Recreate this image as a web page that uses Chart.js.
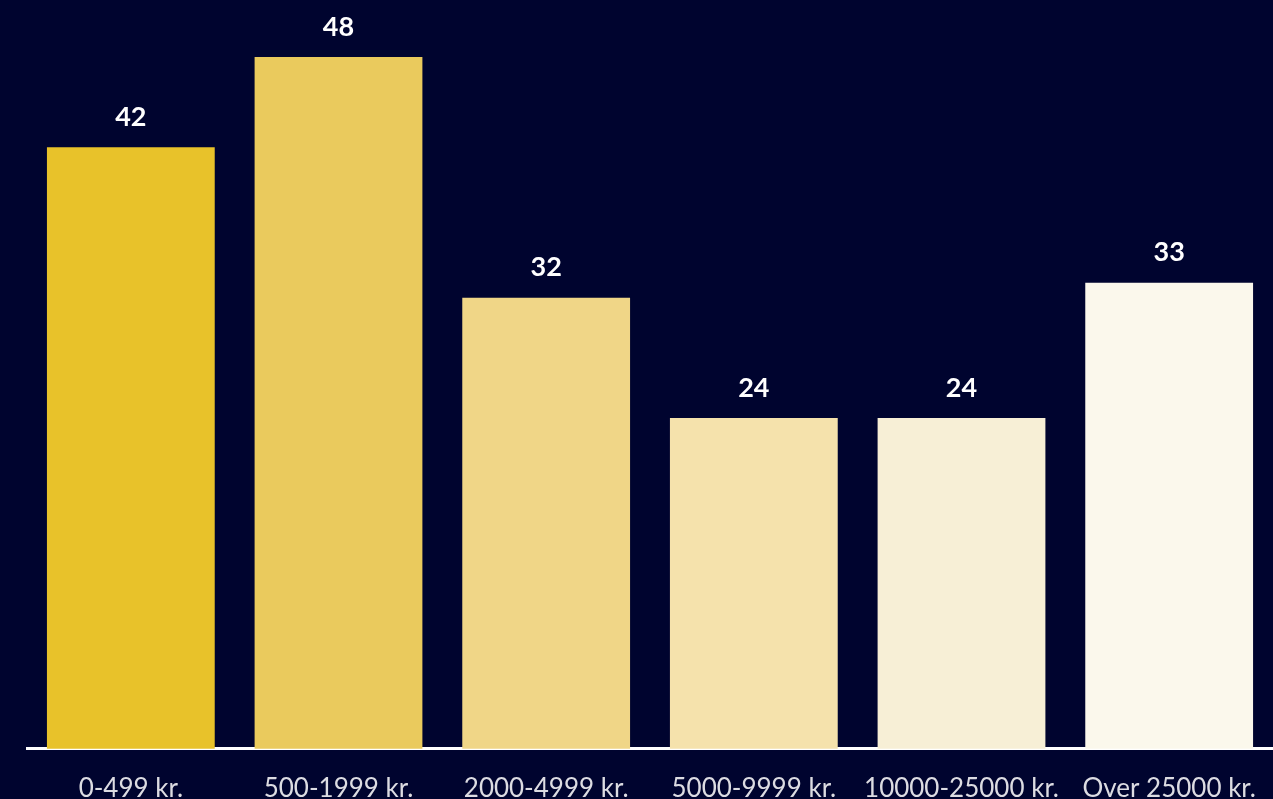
<!DOCTYPE html>
<html>
<head>
<meta charset="utf-8">
<script src="https://cdn.jsdelivr.net/npm/chart.js@4"></script>
<style>
    html, body { margin: 0; padding: 0; background: #00042f; overflow: hidden; height: 799px; }
    #wrap { width: 1273px; height: 820px; position: relative; }
</style>
</head>
<body>
<div id="wrap"><canvas id="priceChart"></canvas></div>
<script>
// Data
const categories = ['0-499 kr.', '500-1999 kr.', '2000-4999 kr.', '5000-9999 kr.', '10000-25000 kr.', 'Over 25000 kr.'];
const values = [42, 48, 32, 24, 24, 33];
const barColors = ['#e8c22a', '#eaca5d', '#f0d687', '#f5e2ac', '#f7efd6', '#fbf8ec'];

// Value labels on top of each bar
const valueLabels = {
    id: 'valueLabels',
    afterDatasetsDraw(chart) {
        const ctx = chart.ctx;
        const meta = chart.getDatasetMeta(0);
        ctx.save();
        ctx.fillStyle = '#ffffff';
        ctx.font = 'bold 27px Lato';
        ctx.textAlign = 'center';
        ctx.textBaseline = 'middle';
        meta.data.forEach((bar, i) => {
            ctx.fillText(values[i], bar.x, bar.y - 30);
        });
        ctx.restore();
    }
};

const ctx = document.getElementById('priceChart').getContext('2d');
new Chart(ctx, {
    type: 'bar',
    data: {
        labels: categories,
        datasets: [{
            data: values,
            backgroundColor: barColors,
            borderWidth: 0,
            barPercentage: 0.808,
            categoryPercentage: 1
        }]
    },
    options: {
        responsive: true,
        maintainAspectRatio: false,
        animation: false,
        layout: { padding: { top: 27, left: 27, right: 0, bottom: 0 } },
        plugins: { legend: { display: false }, tooltip: { enabled: false } },
        scales: {
            y: { display: false, min: 2, max: 50 },
            x: {
                grid: { display: false },
                border: { display: true, color: '#ffffff', width: 3 },
                ticks: {
                    color: '#dcdce2',
                    font: { family: 'Lato', size: 26 },
                    padding: 16,
                    maxRotation: 0,
                    autoSkip: false
                }
            }
        }
    },
    plugins: [valueLabels]
});
</script>
</body>
</html>
